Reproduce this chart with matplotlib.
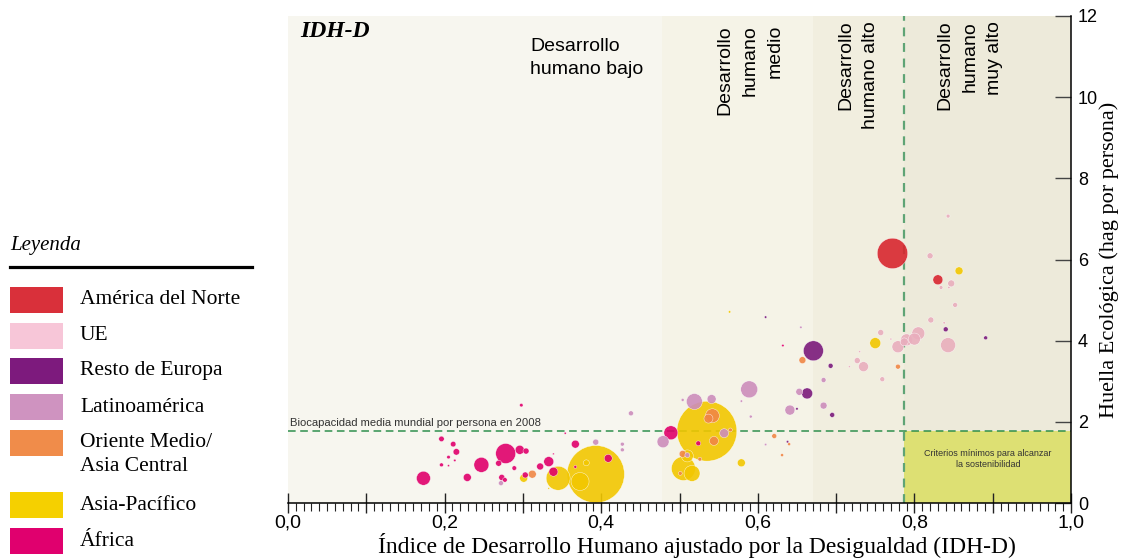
import matplotlib
matplotlib.use('Agg')
import matplotlib.pyplot as plt
from matplotlib.patches import Rectangle
from matplotlib.ticker import MultipleLocator, FuncFormatter
import numpy as np

# regiones y colores de la leyenda
regiones = ['América del Norte', 'UE', 'Resto de Europa', 'Latinoamérica',
            'Oriente Medio/\nAsia Central', 'Asia-Pacífico', 'África']
colores_leyenda = ['#d9303a', '#f7c6d8', '#7d1a7d', '#cf93c0', '#f08c4a', '#f5d000', '#e0006e']
colores_puntos = ['#d8262f', '#e9aebd', '#7b1a7b', '#cc8dbb', '#f08745', '#f2c700', '#e0006b']

# IDH-D, huella ecológica (hag por persona), población (millones)
nam_idhd = [0.772, 0.830]
nam_huella = [6.15, 5.50]
nam_pob = [310, 33]

ue_idhd = [0.735, 0.727, 0.730, 0.717, 0.759, 0.757, 0.770, 0.779, 0.790, 0.800,
           0.805, 0.843, 0.821, 0.838, 0.852, 0.820, 0.843, 0.847, 0.834, 0.844, 0.787]
ue_huella = [3.36, 3.51, 3.73, 3.36, 3.05, 4.20, 4.04, 3.85, 4.02, 4.04,
             4.18, 3.89, 4.51, 4.44, 4.88, 6.09, 7.07, 5.41, 5.31, 5.31, 3.97]
ue_pob = [33, 12, 1.5, 1.5, 8, 12, 1.5, 48, 48, 48,
          56, 75, 12, 2, 8, 12, 5, 16, 5, 2, 21]

reu_idhd = [0.671, 0.663, 0.693, 0.695, 0.650, 0.610, 0.840, 0.891, 0.638]
reu_huella = [3.75, 2.70, 3.38, 2.17, 2.32, 4.58, 4.28, 4.07, 1.51]
reu_pob = [133, 40, 8, 8, 2, 2, 8, 5, 2]

lat_idhd = [0.272, 0.393, 0.427, 0.427, 0.438, 0.519, 0.541, 0.589, 0.479, 0.557,
            0.504, 0.641, 0.653, 0.579, 0.591, 0.610, 0.655, 0.684, 0.684, 0.510]
lat_huella = [0.49, 1.50, 1.45, 1.31, 2.21, 2.50, 2.56, 2.80, 1.51, 1.72,
              2.54, 2.29, 2.74, 2.51, 2.13, 1.44, 4.33, 3.03, 2.40, 1.18]
lat_pob = [8, 12, 5, 5, 8, 85, 27, 96, 48, 27,
           3, 33, 16, 2, 3, 2, 2, 8, 16, 8]

ome_idhd = [0.312, 0.542, 0.537, 0.544, 0.504, 0.501, 0.565, 0.526, 0.621, 0.631,
            0.640, 0.657, 0.779]
ome_huella = [0.71, 2.15, 2.08, 1.53, 1.21, 0.73, 1.80, 1.08, 1.65, 1.18,
              1.45, 3.52, 3.36]
ome_pob = [21, 65, 27, 27, 16, 5, 5, 5, 8, 3, 3, 16, 8]

asp_idhd = [0.393, 0.535, 0.345, 0.373, 0.301, 0.381, 0.333, 0.505, 0.516, 0.510,
            0.579, 0.564, 0.750, 0.857]
asp_huella = [0.71, 1.77, 0.61, 0.53, 0.61, 0.99, 0.36, 0.85, 0.73, 1.16,
              0.99, 4.71, 3.94, 5.72]
asp_pob = [1100, 1200, 192, 108, 21, 12, 1, 192, 85, 48,
           21, 2, 40, 21]

afr_idhd = [0.196, 0.211, 0.215, 0.205, 0.213, 0.196, 0.205, 0.173, 0.247, 0.229,
            0.278, 0.296, 0.304, 0.269, 0.289, 0.273, 0.277, 0.303, 0.298, 0.333,
            0.322, 0.339, 0.367, 0.354, 0.339, 0.489, 0.524, 0.632, 0.409, 0.367]
afr_huella = [1.58, 1.45, 1.26, 1.13, 1.05, 0.94, 0.92, 0.61, 0.94, 0.63,
              1.22, 1.31, 1.28, 0.98, 0.86, 0.63, 0.57, 0.69, 2.41, 1.02,
              0.90, 0.77, 1.45, 1.72, 1.21, 1.73, 1.47, 3.88, 1.10, 0.89]
afr_pob = [10, 10, 14, 4, 2, 5, 1.5, 65, 75, 21,
           133, 27, 12, 12, 7, 12, 7, 12, 4, 33,
           16, 27, 21, 1.5, 1, 65, 8, 2, 21, 3]

# bandas de desarrollo humano
bandas_lim = [0.0, 0.478, 0.67, 0.787, 1.0]
bandas_color = ['#f7f6ef', '#f5f3e7', '#f1eedf', '#edeada']
biocapacidad = 1.78
umbral_idh = 0.787

fig = plt.figure(figsize=(11.22, 5.58), dpi=100)
ax = fig.add_axes([288 / 1122, 55 / 558, 783 / 1122, 487 / 558])

for i in range(4):
    ax.axvspan(bandas_lim[i], bandas_lim[i + 1], color=bandas_color[i], lw=0, zorder=0)
ax.add_patch(Rectangle((umbral_idh, 0), 1 - umbral_idh, biocapacidad,
                       facecolor='#dde073', edgecolor='none', zorder=0.5))

ax.axhline(biocapacidad, color='#2f8f4e', ls=(0, (5, 3)), lw=1.1, zorder=1)
ax.plot([umbral_idh, umbral_idh], [0, 12], color='#5fa475', ls=(0, (4, 3)), lw=1.6, zorder=1)

# burbujas
xs, ys, ps, cs = [], [], [], []
series = [(nam_idhd, nam_huella, nam_pob), (ue_idhd, ue_huella, ue_pob),
          (reu_idhd, reu_huella, reu_pob), (lat_idhd, lat_huella, lat_pob),
          (ome_idhd, ome_huella, ome_pob), (asp_idhd, asp_huella, asp_pob),
          (afr_idhd, afr_huella, afr_pob)]
for (xv, yv, pv), c in zip(series, colores_puntos):
    xs += xv
    ys += yv
    ps += pv
    cs += [c] * len(xv)
orden = np.argsort(ps)[::-1]
xs, ys, ps = np.array(xs)[orden], np.array(ys)[orden], np.array(ps)[orden]
cs = [cs[i] for i in orden]
ax.scatter(xs, ys, s=ps * 1.55, c=cs, alpha=0.9, edgecolors='white', linewidths=0.3, zorder=2)

# textos dentro del gráfico
ax.text(0.016, 11.88, 'IDH-D', family='Liberation Serif', style='italic', weight='bold',
        fontsize=17, va='top', ha='left')
ax.text(0.309, 11.45, 'Desarrollo\nhumano bajo', family='Liberation Sans', fontsize=14,
        va='top', ha='left', linespacing=1.45)
ax.text(0.590, 11.78, 'Desarrollo\nhumano\nmedio', family='Liberation Sans', fontsize=14,
        rotation=90, va='top', ha='center', multialignment='right', linespacing=1.6)
ax.text(0.728, 11.88, 'Desarrollo\nhumano alto', family='Liberation Sans', fontsize=14,
        rotation=90, va='top', ha='center', multialignment='right', linespacing=1.6)
ax.text(0.871, 11.88, 'Desarrollo\nhumano\nmuy alto', family='Liberation Sans', fontsize=14,
        rotation=90, va='top', ha='center', multialignment='right', linespacing=1.6)
ax.text(0.002, biocapacidad + 0.07, 'Biocapacidad media mundial por persona en 2008',
        family='Liberation Sans', fontsize=8.1, color='#333333', va='bottom', ha='left')
ax.text(0.894, 1.08, 'Criterios mínimos para alcanzar\nla sostenibilidad',
        family='Liberation Sans', fontsize=6.5, color='#333333', va='center', ha='center')

# ejes
ax.set_xlim(0, 1)
ax.set_ylim(0, 12)
for s in ['left', 'top']:
    ax.spines[s].set_visible(False)
for s in ['right', 'bottom']:
    ax.spines[s].set_color('black')
    ax.spines[s].set_linewidth(1.1)

ax.xaxis.set_major_locator(MultipleLocator(0.1))
ax.xaxis.set_minor_locator(MultipleLocator(0.01))
ax.xaxis.set_major_formatter(FuncFormatter(
    lambda v, p: f'{v:.1f}'.replace('.', ',') if round(v * 10) % 2 == 0 else ''))
ax.tick_params(axis='x', which='major', direction='inout', length=14, width=1, color='#222222',
               labelsize=14, pad=1)
ax.tick_params(axis='x', which='minor', direction='out', length=6, width=0.8, color='#222222')
for lab in ax.get_xticklabels():
    lab.set_family(['Liberation Sans Narrow', 'Liberation Sans'])

ax.yaxis.tick_right()
ax.yaxis.set_major_locator(MultipleLocator(2))
ax.tick_params(axis='y', which='major', direction='in', length=11.5, width=1, color='#444444',
               labelsize=13, pad=5)
for lab in ax.get_yticklabels():
    lab.set_family('Liberation Sans')

ax.set_xlabel('Índice de Desarrollo Humano ajustado por la Desigualdad (IDH-D)',
              family='Liberation Serif', fontsize=17)
ax.xaxis.set_label_coords(0.522, -0.062)
ax.yaxis.set_label_position('right')
ax.set_ylabel('Huella Ecológica (hag por persona)', family='Liberation Serif', fontsize=16)
ax.yaxis.set_label_coords(1.036, 0.5)

# leyenda
W, H = 1122, 558
fig.text(10 / W, 1 - 250 / H, 'Leyenda', family='Liberation Serif', style='italic',
         fontsize=15, va='baseline', ha='left')
fig.add_artist(plt.Line2D([10 / W, 252 / W], [1 - 267 / H, 1 - 267 / H], color='black',
                          lw=2.3, transform=fig.transFigure))
tops = [287, 323, 358, 394, 430, 492, 528]
for nombre, col, t in zip(regiones, colores_leyenda, tops):
    fig.add_artist(Rectangle((10 / W, 1 - (t + 26) / H), 53 / W, 26 / H, facecolor=col,
                             edgecolor='none', transform=fig.transFigure))
    if '\n' in nombre:
        fig.text(80 / W, 1 - (t + 3) / H, nombre, family='Liberation Serif', fontsize=15.5,
                 va='top', ha='left', linespacing=1.35)
    else:
        fig.text(80 / W, 1 - (t + 13) / H, nombre, family='Liberation Serif', fontsize=15.5,
                 va='center', ha='left')

fig.savefig('out.png', dpi=100)
